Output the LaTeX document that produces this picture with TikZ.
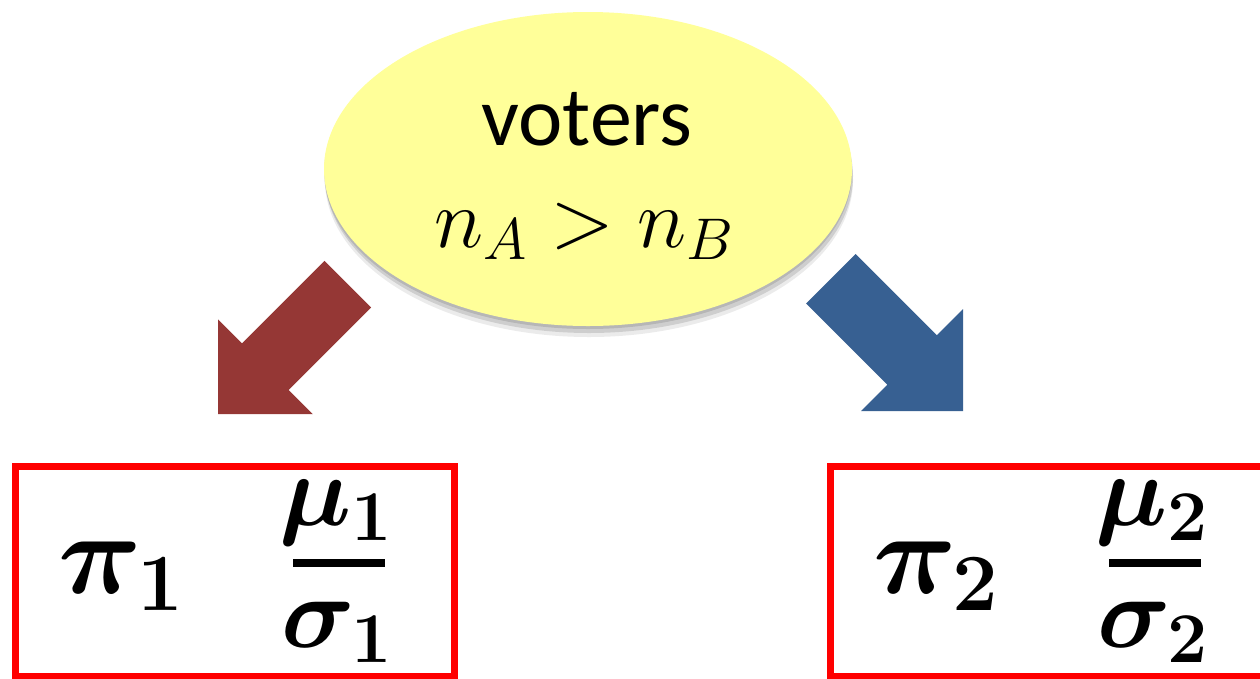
\RequirePackage{fix-cm}
\documentclass[tikz,border=0pt]{standalone}
\usepackage{amsmath}
\usepackage{fontspec}
\newfontfamily\calibri{Carlito}
\usetikzlibrary{shapes.geometric, shadows, positioning}

\definecolor{voteryellow}{HTML}{FFFF99}
\definecolor{arrowred}{HTML}{953735}
\definecolor{arrowblue}{HTML}{376092}
\definecolor{boxred}{HTML}{FF0000}

\begin{document}
\begin{tikzpicture}[
    x=1pt, y=-1pt,
    % Global styles
    votersbox/.style={
      ellipse, fill=voteryellow, inner sep=0pt,
      minimum width=528pt, minimum height=314pt,
      drop shadow={shadow xshift=0pt, shadow yshift=-3pt, opacity=0.12, fill=black},
      drop shadow={shadow xshift=1pt, shadow yshift=-7pt, opacity=0.12, fill=black},
      drop shadow={shadow xshift=1pt, shadow yshift=-11pt, opacity=0.08, fill=black}
    },
    votertext/.style={anchor=base, inner sep=0pt, font=\calibri\fontsize{84}{100}\selectfont},
    condtext/.style={anchor=base, inner sep=0pt, font=\fontsize{84}{100}\selectfont},
    % Result boxes
    resultbox/.style={
      rectangle, draw=boxred, line width=7pt, inner sep=0pt,
      minimum width=439pt, minimum height=210pt
    },
    bigmath/.style={inner sep=0pt, font=\fontsize{116}{140}\selectfont\boldmath},
    fracmath/.style={inner sep=0pt, anchor=base, font=\fontsize{102}{120}\selectfont\boldmath},
    fracbar/.style={rectangle, fill=black, inner sep=0pt, minimum width=92pt, minimum height=8pt},
    blockred/.style={fill=arrowred},
    blockblue/.style={fill=arrowblue},
  ]
  \useasboundingbox (0,0) rectangle (1260,678);

  % ====================================================================
  % TOP — voters
  % ====================================================================
  \node[votersbox] (voters) at (588,169) {};
  \node[votertext] (vlabel) at (587,145) {voters};
  \node[condtext] (vcond) at (584,247) {$n_A > n_B$};

  % ====================================================================
  % BLOCK ARROWS
  % ====================================================================
  \coordinate (ltip) at (218,414);
  \coordinate (rtip) at (963,411);

  \begin{scope}[shift={(ltip)}, rotate=225]
    \fill[blockred] (0,0) -- (-67,67) -- (-67,33) -- (-183.5,33)
      -- (-183.5,-33) -- (-67,-33) -- (-67,-67) -- cycle;
  \end{scope}

  \begin{scope}[shift={(rtip)}, rotate=-45]
    \fill[blockblue] (0,0) -- (-72,72) -- (-72,35) -- (-187,35)
      -- (-187,-35) -- (-72,-35) -- (-72,-72) -- cycle;
  \end{scope}

  % ====================================================================
  % LEFT BOX
  % ====================================================================
  \node[resultbox] (lbox) at (235,571.5) {};
  \node[bigmath, anchor=base west] (lpi) at (58,593) {$\pi_{\mathbf{1}}$};
  \node[fracbar] (lbar) at (339,563) {};
  \node[fracmath] (lnum) at (336,525) {$\mu_{\mathbf{1}}$};
  \node[fracmath] (lden) at (337,647) {$\sigma_{\mathbf{1}}$};

  % ====================================================================
  % RIGHT BOX
  % ====================================================================
  \node[resultbox] (rbox) at (1050,571.5) {};
  \node[bigmath, anchor=base west] (rpi) at (873,593) {$\pi_{\mathbf{2}}$};
  \node[fracbar] (rbar) at (1155,563) {};
  \node[fracmath] (rnum) at (1152,525) {$\mu_{\mathbf{2}}$};
  \node[fracmath] (rden) at (1153,647) {$\sigma_{\mathbf{2}}$};

\end{tikzpicture}
\end{document}
